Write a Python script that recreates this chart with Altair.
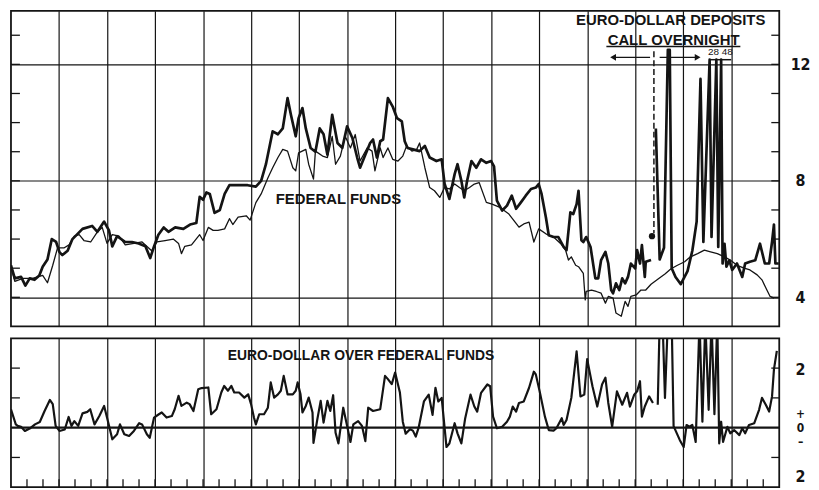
import altair as alt
import pandas as pd

# ---------------- data (x in months from start, values in percent) ----------------
# Euro-dollar call/overnight deposits (heavy line), first stretch
ed1_x = [0, 0.08, 0.21, 0.30, 0.39, 0.49, 0.59, 0.66, 0.76, 0.85,
         0.94, 1.01, 1.07, 1.18, 1.28, 1.49, 1.69, 1.80, 1.94, 2.04,
         2.11, 2.21, 2.38, 2.52, 2.66, 2.80, 2.90, 2.97, 3.07, 3.18,
         3.28, 3.42, 3.59, 3.73, 3.86, 3.93, 4.00, 4.07, 4.14, 4.24,
         4.35, 4.45, 4.55, 4.73, 4.93, 5.10, 5.21, 5.31, 5.45, 5.56,
         5.66, 5.76, 5.83, 5.93, 5.99, 6.07, 6.14, 6.24, 6.34, 6.43,
         6.51, 6.59, 6.69, 6.80, 6.90, 7.00, 7.11, 7.21, 7.27, 7.38,
         7.48, 7.54, 7.62, 7.69, 7.75, 7.85, 7.95, 8.04, 8.14, 8.20,
         8.26, 8.37, 8.51, 8.62, 8.72, 8.86, 8.97, 9.03, 9.13, 9.24,
         9.30, 9.38, 9.44, 9.50, 9.59, 9.69, 9.79, 9.90, 10.00, 10.06,
         10.12, 10.23, 10.33, 10.43, 10.52, 10.62, 10.72, 10.83, 10.93, 10.99,
         11.05, 11.14, 11.20, 11.30, 11.40, 11.51, 11.57, 11.65, 11.71, 11.78,
         11.82, 11.88, 11.92, 11.98, 12.07, 12.17, 12.23, 12.29, 12.38, 12.44,
         12.50, 12.54, 12.60, 12.67, 12.73, 12.79, 12.85, 12.91, 13.00, 13.04,
         13.10, 13.14, 13.20, 13.22, 13.33]
ed1_y = [5.1, 4.65, 4.7, 4.4, 4.65, 4.6, 4.75, 5.05, 5.3, 6.0,
         5.9, 5.55, 5.45, 5.6, 6.0, 6.35, 6.45, 6.25, 6.6, 6.3,
         5.75, 6.1, 5.9, 5.9, 5.85, 5.75, 5.35, 5.7, 6.15, 6.4,
         6.25, 6.4, 6.35, 6.5, 6.55, 7.45, 7.35, 7.6, 7.55, 6.9,
         7.0, 7.55, 7.85, 7.85, 7.85, 7.8, 8.0, 8.57, 9.7, 9.6,
         9.8, 10.84, 10.27, 9.53, 10.15, 10.5, 9.8, 9.13, 9.0, 9.8,
         9.6, 8.9, 10.27, 9.3, 9.13, 9.87, 9.47, 8.8, 8.45, 8.9,
         9.3, 9.42, 8.8, 9.36, 9.42, 10.84, 10.55, 10.15, 10.04, 9.36,
         9.13, 9.08, 9.02, 9.2, 8.8, 8.68, 8.74, 7.9, 7.38, 8.23,
         8.57, 8.0, 7.43, 8.0, 8.68, 8.45, 8.74, 8.62, 8.68, 8.5,
         7.32, 6.98, 7.15, 7.49, 7.04, 7.26, 7.49, 7.72, 7.77, 7.89,
         7.55, 6.75, 6.13, 6.07, 6.07, 5.73, 5.62, 6.92, 6.86, 7.2,
         7.66, 5.96, 5.9, 6.07, 5.73, 4.65, 4.65, 5.28, 5.56, 5.16,
         4.25, 4.14, 4.48, 4.25, 4.65, 4.48, 4.7, 5.16, 4.99, 5.62,
         5.16, 5.79, 4.7, 5.22, 5.28]
# Euro-dollar, second stretch (after the change of series, with spikes)
ed2_x = [13.43, 13.51, 13.60, 13.68, 13.72, 13.76, 13.84, 13.95, 14.09, 14.19,
         14.28, 14.36, 14.42, 14.55, 14.59, 14.69, 14.73, 14.79, 14.82, 14.86,
         14.90, 14.96, 15.02, 15.12, 15.23, 15.29, 15.39, 15.50, 15.60, 15.70,
         15.79, 15.85, 15.89, 15.92, 15.99]
ed2_y = [9.8, 5.3, 5.7, 12.5, 12.5, 5.0, 4.7, 4.45, 4.9, 5.6,
         6.6, 11.5, 5.9, 12.16, 6.07, 12.16, 5.73, 12.16, 5.16, 5.84,
         5.05, 5.27, 4.94, 5.16, 4.7, 5.16, 5.22, 5.27, 5.84, 5.16,
         5.16, 5.9, 6.5, 5.16, 5.16]
# Federal funds rate (thin line)
ff_x = [0, 0.08, 0.25, 0.45, 0.66, 0.76, 0.87, 0.97, 1.11, 1.21,
        1.32, 1.42, 1.52, 1.66, 1.80, 1.90, 2.00, 2.11, 2.25, 2.38,
        2.56, 2.73, 2.93, 3.04, 3.21, 3.38, 3.49, 3.55, 3.62, 3.76,
        3.93, 4.00, 4.11, 4.21, 4.31, 4.45, 4.55, 4.62, 4.73, 4.90,
        4.98, 5.10, 5.21, 5.35, 5.45, 5.56, 5.66, 5.76, 5.87, 5.93,
        5.99, 6.14, 6.20, 6.30, 6.34, 6.49, 6.59, 6.69, 6.76, 6.86,
        6.96, 7.07, 7.17, 7.27, 7.42, 7.52, 7.58, 7.69, 7.75, 7.85,
        7.95, 8.06, 8.16, 8.24, 8.35, 8.45, 8.51, 8.62, 8.72, 8.82,
        8.93, 9.03, 9.13, 9.24, 9.34, 9.44, 9.55, 9.65, 9.75, 9.90,
        10.02, 10.17, 10.37, 10.58, 10.68, 10.79, 10.89, 10.99, 11.14, 11.30,
        11.45, 11.55, 11.61, 11.67, 11.76, 11.82, 11.92, 11.96, 11.98, 12.09,
        12.19, 12.29, 12.38, 12.44, 12.54, 12.60, 12.71, 12.79, 12.85, 12.91,
        13.02, 13.12, 13.22, 13.33, 13.47, 13.62, 13.74, 13.88, 14.03, 14.15,
        14.30, 14.44, 14.57, 14.71, 14.86, 14.98, 15.12, 15.27, 15.39, 15.54,
        15.64, 15.74, 15.81, 15.89]
ff_y = [5.05, 4.55, 4.65, 4.65, 4.75, 4.5, 5.1, 5.7, 5.7, 5.8,
        6.1, 6.15, 5.95, 5.9, 6.25, 6.4, 5.85, 6.15, 6.1, 5.8,
        5.85, 5.9, 5.6, 5.9, 5.95, 6.0, 5.85, 5.5, 5.75, 5.8,
        6.15, 5.95, 6.4, 6.3, 6.3, 6.35, 6.7, 6.5, 6.75, 6.8,
        6.65, 7.25, 7.55, 8.1, 8.45, 8.8, 9.08, 9.02, 8.45, 8.34,
        8.96, 9.08, 8.57, 8.06, 9.02, 8.85, 8.8, 9.53, 8.57, 8.85,
        9.53, 9.13, 9.59, 8.68, 9.13, 9.02, 8.34, 9.13, 8.8, 9.13,
        8.74, 8.68, 8.85, 9.2, 9.02, 9.08, 9.3, 8.45, 7.77, 7.66,
        7.43, 7.77, 7.72, 7.89, 7.77, 7.66, 7.77, 7.89, 7.94, 7.26,
        7.2, 7.1, 6.86, 6.41, 6.52, 6.58, 5.9, 6.35, 6.18, 6.07,
        5.84, 5.62, 5.28, 5.39, 5.1, 5.05, 4.82, 3.91, 4.2, 4.25,
        4.2, 4.14, 3.8, 4.03, 3.97, 3.46, 3.35, 3.86, 3.69, 4.03,
        4.08, 4.25, 4.25, 4.45, 4.62, 4.8, 4.97, 5.1, 5.22, 5.39,
        5.5, 5.62, 5.56, 5.5, 5.39, 5.28, 5.1, 5.0, 4.94, 4.77,
        4.6, 4.26, 4.03, 3.97]
# Euro-dollar over federal funds (lower panel), first stretch
sp1_x = [0, 0.10, 0.14, 0.21, 0.29, 0.39, 0.50, 0.60, 0.70, 0.81,
         0.87, 0.93, 1.01, 1.12, 1.20, 1.26, 1.32, 1.40, 1.49, 1.59,
         1.65, 1.74, 1.84, 1.94, 2.00, 2.11, 2.21, 2.27, 2.36, 2.46,
         2.56, 2.67, 2.73, 2.83, 2.89, 2.98, 3.08, 3.14, 3.24, 3.35,
         3.41, 3.49, 3.55, 3.66, 3.72, 3.80, 3.90, 3.97, 4.11, 4.17,
         4.28, 4.38, 4.44, 4.52, 4.59, 4.65, 4.75, 4.86, 4.94, 5.00,
         5.06, 5.10, 5.17, 5.27, 5.35, 5.41, 5.48, 5.56, 5.62, 5.68,
         5.76, 5.87, 5.93, 5.97, 6.03, 6.07, 6.14, 6.20, 6.28, 6.30,
         6.38, 6.45, 6.51, 6.59, 6.65, 6.71, 6.76, 6.82, 6.92, 7.00,
         7.07, 7.13, 7.23, 7.31, 7.38, 7.44, 7.54, 7.69, 7.79, 7.85,
         7.93, 8.00, 8.10, 8.16, 8.22, 8.31, 8.37, 8.43, 8.49, 8.60,
         8.70, 8.78, 8.84, 8.90, 8.97, 9.07, 9.13, 9.24, 9.30, 9.38,
         9.46, 9.57, 9.65, 9.71, 9.79, 9.92, 9.98, 10.04, 10.12, 10.23,
         10.33, 10.39, 10.45, 10.52, 10.58, 10.68, 10.79, 10.89, 10.93, 11.01,
         11.12, 11.20, 11.30, 11.36, 11.47, 11.51, 11.57, 11.67, 11.78, 11.86,
         11.94, 12.00, 12.11, 12.21, 12.31, 12.38, 12.44, 12.52, 12.62, 12.73,
         12.83, 12.89, 12.98, 13.04, 13.10, 13.14, 13.20, 13.29, 13.37]
sp1_y = [0.62, 0.11, 0.06, 0.03, -0.11, -0.03, 0.11, 0.19, 0.56, 0.93,
         0.79, 0.06, -0.11, -0.06, 0.36, 0.06, 0.22, 0.06, 0.48, 0.53,
         0.62, 0.11, 0.39, 0.73, 0.34, -0.39, -0.22, 0.11, -0.22, -0.28,
         -0.11, 0.15, 0.11, -0.22, -0.34, 0.34, 0.45, 0.51, 0.34, 0.39,
         0.62, 1.07, 0.73, 0.84, 0.79, 0.56, 1.29, 1.33, 1.35, 0.45,
         0.62, 1.18, 1.4, 1.24, 1.4, 1.18, 1.18, 1.01, 1.12, 0.79,
         0.34, 0.11, 0.45, 0.45, 0.67, 1.52, 1.01, 1.12, 1.24, 1.74,
         1.12, 1.12, 1.24, 1.52, 1.12, 0.51, 0.73, 1.01, 0.51, -0.51,
         0.28, 0.9, 0.17, 0.9, 0.56, 1.09, -0.17, -0.53, 0.67, 0.06,
         -0.48, 0.11, 0.22, 0.06, -0.45, 0.67, 0.56, 0.62, 1.74, 1.63,
         1.46, 1.85, 1.18, 0.2, -0.2, -0.05, -0.1, -0.3, 0.0, 0.88,
         1.11, 0.43, 1.34, 0.88, 1.0, -0.65, -0.53, 0.15, -0.19, -0.53,
         0.32, 1.11, 0.71, 0.54, 1.17, 1.45, 1.39, 0.37, -0.02, 0.03,
         0.2, 0.37, 0.71, 0.54, 0.83, 0.88, 1.34, 1.88, 1.79, 1.22,
         0.37, -0.08, -0.1, -0.02, 0.32, 0.09, 0.26, 1.0, 2.56, 1.05,
         1.11, 2.3, 1.39, 0.71, 1.45, 1.68, 0.83, 0.03, 1.22, 0.77,
         1.17, 0.71, 1.11, 1.22, 1.56, 0.37, 0.71, 1.05, 0.83]
# Euro-dollar over federal funds, second stretch (spikes run off the panel)
sp2_x = [13.47, 13.51, 13.57, 13.62, 13.68, 13.76, 13.80, 13.93, 14.01, 14.07,
         14.13, 14.19, 14.26, 14.34, 14.40, 14.46, 14.53, 14.59, 14.65, 14.71,
         14.75, 14.79, 14.83, 14.92, 14.98, 15.06, 15.17, 15.23, 15.29, 15.37,
         15.48, 15.58, 15.64, 15.72, 15.79, 15.85, 15.89, 15.95]
sp2_y = [0.77, 3.6, 3.6, 1.0, 3.6, 3.6, 0.05, -0.42, -0.65, 0.09,
         0.03, 0.09, -0.48, 3.6, 0.2, 3.6, 0.6, 3.6, 0.45, 3.6,
         -0.53, 0.2, -0.48, 0.03, -0.19, -0.08, -0.25, -0.02, -0.19, 0.09,
         0.15, 0.6, 1.0, 0.77, 0.54, 1.05, 1.96, 2.58]

# axes / ticks
top_labels = [4, 8, 12]
top_minor = [4, 5, 6, 7, 8, 9, 10, 11, 12, 13]
low_labels = [2, 0, -2]
low_minor = [2, 1, -1]
month_lines = list(range(1, 16))
ten_day_ticks = [k / 3 for k in range(1, 48)]

INK = "#141414"
FONT = "Liberation Sans"
NUM_FONT = "DejaVu Sans Condensed, DejaVu Sans"
W = 774
H_TOP = 318
H_LOW = 150

# ---------------- frames ----------------
def frame(xs, ys, seg):
    return pd.DataFrame({"x": xs, "y": ys, "seg": seg})

ed = pd.concat([frame(ed1_x, ed1_y, "a"), frame(ed2_x, ed2_y, "b")])
ff = frame(ff_x, ff_y, "a")
sp = pd.concat([frame(sp1_x, sp1_y, "a"), frame(sp2_x, sp2_y, "b")])

top_text = pd.DataFrame({
    "x": [13.74, 13.80, 6.82],
    "y": [13.53, 12.85, 7.37],
    "t": ["EURO-DOLLAR DEPOSITS", "CALL OVERNIGHT", "FEDERAL FUNDS"],
})
small_text = pd.DataFrame({"x": [14.63, 14.92], "y": [12.41, 12.41], "t": ["28", "48"]})
top_rules = pd.DataFrame({
    "x": [12.40, 13.31, 13.51, 14.55],
    "x2": [15.19, 12.54, 14.30, 15.0],
    "y": [12.61, 12.24, 12.24, 12.16],
})
arrow_heads = pd.DataFrame({"x": [12.54, 14.30], "y": [12.24, 12.24],
                            "shape": ["triangle-left", "triangle-right"]})
dash_line = pd.DataFrame({"x": [13.39], "y": [12.45], "y2": [6.2]})
dot = pd.DataFrame({"x": [13.35], "y": [6.1]})
low_text = pd.DataFrame({"x": [7.29], "y": [2.41], "t": ["EURO-DOLLAR OVER FEDERAL FUNDS"]})

# ---------------- scales / axes ----------------
xs = alt.Scale(domain=[0, 16], nice=False, zero=False)
ys_top = alt.Scale(domain=[3, 13.84], nice=False, zero=False)
ys_low = alt.Scale(domain=[-2, 3], nice=False, zero=False)

x_axis = alt.Axis(values=month_lines, grid=True, gridColor=INK, gridWidth=1.2,
                  gridOpacity=1, labels=False, ticks=False, domain=False, title=None)
y_axis_top = alt.Axis(orient="right", values=top_labels, grid=True, gridColor=INK,
                      gridWidth=1.2, gridOpacity=1, ticks=False, domain=False,
                      labelFont=NUM_FONT, labelFontWeight="bold", labelFontSize=16,
                      labelColor=INK, labelPadding=21, labelAlign="center", title=None)
y_axis_low = alt.Axis(orient="right", values=low_labels, grid=False, ticks=False,
                      domain=False, labelFont=NUM_FONT, labelFontWeight="bold",
                      labelFontSize={"condition": {"test": "datum.value == 0", "value": 12},
                                     "value": 16},
                      labelColor=INK, labelPadding=21, labelAlign="center",
                      labelLineHeight=14,
                      labelOffset={"condition": [{"test": "datum.value == 0", "value": -14},
                                                 {"test": "datum.value < 0", "value": -11}],
                                   "value": 1},
                      labelExpr="datum.value == 0 ? ['+', '0', '\u2013'] : '2'",
                      title=None)

XT = alt.X("x:Q", scale=xs, axis=x_axis, title=None)
YT = alt.Y("y:Q", scale=ys_top, axis=y_axis_top, title=None)
YL = alt.Y("y:Q", scale=ys_low, axis=y_axis_low, title=None)

# ---------------- top panel ----------------
tmin = pd.DataFrame({"y": top_minor})
top_left_ticks = alt.Chart(tmin).mark_rule(color=INK, strokeWidth=1.3).encode(
    y=YT, x=alt.value(0), x2=alt.value(9))
top_right_ticks = alt.Chart(tmin).mark_rule(color=INK, strokeWidth=1.3).encode(
    y=YT, x=alt.value(W - 8), x2=alt.value(W))

ff_line = alt.Chart(ff).mark_line(color=INK, strokeWidth=1.3, clip=True,
                                  strokeJoin="round").encode(x=XT, y=YT, detail="seg:N")
ed_line = alt.Chart(ed).mark_line(color=INK, strokeWidth=2.7, clip=True,
                                  strokeJoin="round").encode(x=XT, y=YT, detail="seg:N")

t_text = alt.Chart(top_text).mark_text(font=FONT, fontWeight="bold", fontSize=15, color=INK,
                                       align="center", baseline="middle").encode(
    x=XT, y=YT, text="t:N")
s_text = alt.Chart(small_text).mark_text(font=FONT, fontSize=10, color=INK,
                                         align="center", baseline="middle").encode(
    x=XT, y=YT, text="t:N")
t_rules = alt.Chart(top_rules).mark_rule(color=INK, strokeWidth=1.5).encode(
    x=XT, x2="x2:Q", y=YT)
t_heads = alt.Chart(arrow_heads).mark_point(filled=True, opacity=1, color=INK, size=45).encode(
    x=XT, y=YT, shape=alt.Shape("shape:N", scale=None, legend=None))
t_dash = alt.Chart(dash_line).mark_rule(color=INK, strokeWidth=1.5, strokeDash=[6, 3]).encode(
    x=XT, y=YT, y2="y2:Q")
t_dot = alt.Chart(dot).mark_point(filled=True, opacity=1, color=INK, size=40, shape="circle").encode(
    x=XT, y=YT)

top = alt.layer(top_left_ticks, top_right_ticks, ff_line, ed_line, t_rules, t_heads,
                t_dash, t_dot, t_text, s_text).properties(width=W, height=H_TOP)

# ---------------- lower panel ----------------
lmin = pd.DataFrame({"y": low_minor})
low_left_ticks = alt.Chart(lmin).mark_rule(color=INK, strokeWidth=1.3).encode(
    y=YL, x=alt.value(0), x2=alt.value(9))
low_right_ticks = alt.Chart(lmin).mark_rule(color=INK, strokeWidth=1.3).encode(
    y=YL, x=alt.value(W - 8), x2=alt.value(W))
zero_df = pd.DataFrame({"y": [0]})
zero_line = alt.Chart(zero_df).mark_rule(color=INK, strokeWidth=2.4).encode(
    y=YL, x=alt.value(0), x2=alt.value(W))
bt = pd.DataFrame({"x": ten_day_ticks})
bottom_ticks = alt.Chart(bt).mark_rule(color=INK, strokeWidth=1.3).encode(
    x=XT, y=alt.value(H_LOW - 8), y2=alt.value(H_LOW))
sp_line = alt.Chart(sp).mark_line(color=INK, strokeWidth=2.2, clip=True,
                                  strokeJoin="round").encode(x=XT, y=YL, detail="seg:N")
l_text = alt.Chart(low_text).mark_text(font=FONT, fontWeight="bold", fontSize=14, color=INK,
                                       align="center", baseline="middle").encode(
    x=XT, y=YL, text="t:N")

low = alt.layer(low_left_ticks, low_right_ticks, bottom_ticks, zero_line, sp_line,
                l_text).properties(width=W, height=H_LOW)

chart = alt.vconcat(top, low, spacing=10).properties(
    padding={"left": 0, "top": 0, "right": 0, "bottom": 0},
    background="white",
).configure_view(stroke=INK, strokeWidth=1.8)

chart.save("out.html", embed_options={"renderer": "svg", "actions": False})
